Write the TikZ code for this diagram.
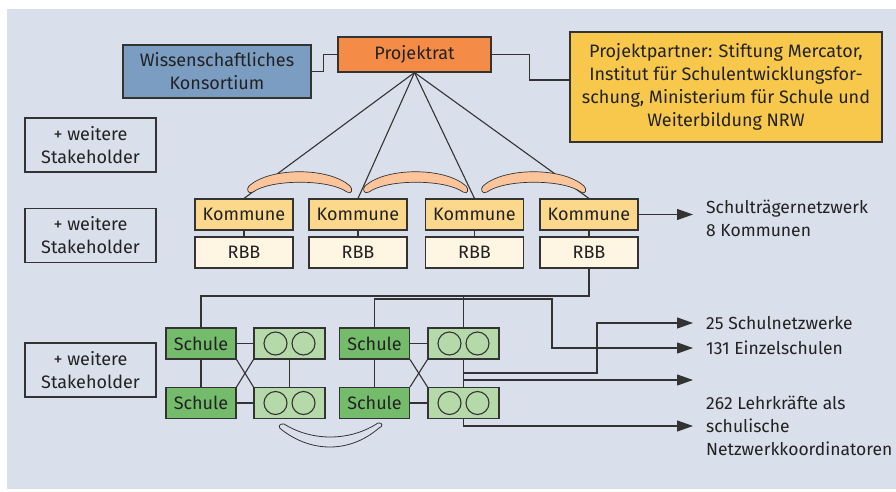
\documentclass[tikz,border=0pt]{standalone}
\usepackage{fontspec}
\setmainfont{Fira Sans}
\usepackage{xcolor}
\usepackage{tikz}
\usetikzlibrary{arrows.meta}
\tikzset{>={Triangle[length=16pt,width=11pt]}}

\definecolor{bgpanel}{RGB}{217,223,235}
\definecolor{linegray}{RGB}{51,51,51}
\definecolor{textgray}{RGB}{34,34,34}
\definecolor{wissblue}{RGB}{124,157,194}
\definecolor{ratorange}{RGB}{244,140,72}
\definecolor{partneryellow}{RGB}{248,200,76}
\definecolor{kommune}{RGB}{251,216,140}
\definecolor{rbbcream}{RGB}{254,245,227}
\definecolor{bandpeach}{RGB}{252,196,154}
\definecolor{schulgreen}{RGB}{116,187,108}
\definecolor{ringgreen}{RGB}{182,217,170}

% arc band between two Kommunen
\newcommand{\kband}[1]{%
  \draw[arcband, xshift=#1pt] (249,186) .. controls (270,167) and (329,167) .. (350,186)
    .. controls (353,189) and (352,195) .. (347,192)
    .. controls (329,179) and (271,179) .. (253,192)
    .. controls (248,195) and (246,189) .. (249,186) -- cycle;}

\begin{document}
\begin{tikzpicture}[x=1pt,y=-1pt,
                    font=\fontsize{18}{23}\selectfont,
                    box/.style={draw=linegray, line width=1.1pt, text=textgray, align=center, inner sep=0pt},
                    stakebox/.style={box, minimum width=131pt, minimum height=54pt},
                    kbox/.style={box, fill=kommune, minimum width=98pt, minimum height=31pt},
                    rbbbox/.style={box, fill=rbbcream, minimum width=98pt, minimum height=31pt},
                    schulbox/.style={box, fill=schulgreen, minimum width=70pt, minimum height=31pt},
                    ringbox/.style={box, fill=ringgreen, minimum width=71pt, minimum height=31pt},
                    ring/.style={draw=linegray, line width=1.1pt},
                    link/.style={draw=linegray, line width=1.1pt},
                    outarrow/.style={link, ->, shorten >=13pt},
                    sidetext/.style={text=textgray, align=left, anchor=west, inner sep=0pt,
                                     font=\fontsize{17.5}{23}\selectfont},
                    arcband/.style={draw=linegray, line width=0.7pt, fill=bandpeach},
                   ]

\useasboundingbox (0,0) rectangle (896,492);
\fill[bgpanel] (7,9) rectangle (896,489);

% top row
\node[box, fill=wissblue, minimum width=188pt, minimum height=53pt] (wiss) at (217,71.5) {Wissenschaftliches\\Konsortium};
\node[box, fill=ratorange, minimum width=153pt, minimum height=35pt] (rat) at (414.5,54.5) {Projektrat};
\node[box, fill=partneryellow, minimum width=312pt, minimum height=110pt] (partner) at (726,87)
  {Projektpartner: Stiftung Mercator,\\Institut für Schulentwicklungsfor-\\schung, Ministerium für Schule und\\Weiterbildung NRW};

\draw[link] (wiss.east) -- ++(12,0) |- (rat.west);
\draw[link] (rat.east) -- ++(38,0) |- ([yshift=7pt]partner.west);

% stakeholders
\node[stakebox] (stake1) at (90.5,145) {+ weitere\\Stakeholder};
\node[stakebox] (stake2) at (90.5,235.5) {+ weitere\\Stakeholder};
\node[stakebox] (stake3) at (90.5,370) {+ weitere\\Stakeholder};

% Kommunen
\node[kbox] (k1) at (244,214.5) {Kommune};
\node[kbox] (k2) at (358,214.5) {Kommune};
\node[kbox] (k3) at (474.5,214.5) {Kommune};
\node[kbox] (k4) at (589,214.5) {Kommune};
\node[rbbbox] (r1) at (244,252.5) {RBB};
\node[rbbbox] (r2) at (358,252.5) {RBB};
\node[rbbbox] (r3) at (474.5,252.5) {RBB};
\node[rbbbox] (r4) at (589,252.5) {RBB};

\draw[link] (rat.south) -- (k1.north);
\draw[link] (rat.south) -- (k2.north);
\draw[link] (rat.south) -- (k3.north);
\draw[link] (rat.south) -- (k4.north);
\kband{0}
\kband{116}
\kband{234}

\draw[link] (k1.south) -- (r1.north);
\draw[link] (k2.south) -- (r2.north);
\draw[link] (k3.south) -- (r3.north);
\draw[link] (k4.south) -- (r4.north);

% right-hand texts
\node[sidetext] (traeger) at (706,218.5) {Schulträgernetzwerk\\8 Kommunen};
\node[sidetext] (netz) at (706,323) {25 Schulnetzwerke};
\node[sidetext] (einzel) at (706,348) {131 Einzelschulen};
\node[sidetext] (lehr) at (706,426) {262 Lehrkräfte als\\schulische\\Netzwerkkoordinatoren};
\coordinate (lkarrow) at (693,380);

\draw[outarrow] (k4.east) -- (k4.east -| traeger.west);

% Schulen
\node[schulbox] (s1) at (201,343.5) {Schule};
\node[schulbox] (s2) at (201,403) {Schule};
\node[schulbox] (s3) at (374.5,343.5) {Schule};
\node[schulbox] (s4) at (374.5,403) {Schule};
\node[ringbox] (c1) at (289.5,343.5) {};
\node[ringbox] (c2) at (289.5,403) {};
\node[ringbox] (c3) at (463.5,343.5) {};
\node[ringbox] (c4) at (463.5,403) {};

\draw[ring] ([xshift=-14pt]c1.center) circle (11.5pt);
\draw[ring] ([xshift=14pt]c1.center) circle (11.5pt);
\draw[ring] ([xshift=-14pt]c2.center) circle (11.5pt);
\draw[ring] ([xshift=14pt]c2.center) circle (11.5pt);
\draw[ring] ([xshift=-14pt]c3.center) circle (11.5pt);
\draw[ring] ([xshift=14pt]c3.center) circle (11.5pt);
\draw[ring] ([xshift=-14pt]c4.center) circle (11.5pt);
\draw[ring] ([xshift=14pt]c4.center) circle (11.5pt);

\draw[link] (s1.east) -- (c1.west);
\draw[link] (s2.east) -- (c2.west);
\draw[link] (s1.south) -- (s2.north);
\draw[link] (c1.south) -- (c2.north);
\draw[link] (s1.south east) -- (c2.north west);
\draw[link] (c1.south west) -- (s2.north east);

\draw[link] (s3.east) -- (c3.west);
\draw[link] (s4.east) -- (c4.west);
\draw[link] (s3.south) -- (s4.north);
\draw[link] (c3.south) -- (c4.north);
\draw[link] (s3.south east) -- (c4.north west);
\draw[link] (c3.south west) -- (s4.north east);

% network lines
\coordinate (bus) at (589,296);
\draw[link] (r4.south) -- (bus) -| (s1.north);
\draw[link] (c3.north) -- (c3.north |- bus);
\draw[outarrow] (s3.north) |- (552,299) |- (einzel.west);
\draw[outarrow] (c3.south) |- (597,373) |- (netz.west);
\draw[link, ->] (c3.south |- lkarrow) -- (lkarrow);
\draw[outarrow] (c4.south) |- (lehr.west);

% band below the Schulen
\draw[line width=0.8pt, draw=linegray] (284,424) .. controls (312,441.5) and (350,441.5) .. (378,423)
  .. controls (383,422) and (383,427) .. (379,428)
  .. controls (350,453) and (312,453) .. (282,430)
  .. controls (278,428) and (278,423) .. (284,424) -- cycle;

\end{tikzpicture}
\end{document}
